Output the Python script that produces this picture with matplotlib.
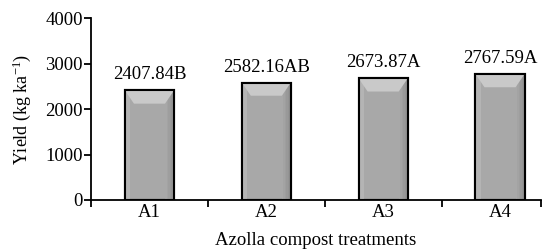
import matplotlib
matplotlib.use("Agg")
import matplotlib.pyplot as plt
from matplotlib.patches import Polygon, Rectangle
import numpy as np

categories = ["A1", "A2", "A3", "A4"]
yields = [2407.84, 2582.16, 2673.87, 2767.59]
letters = ["B", "AB", "A", "A"]
yticks = [0, 1000, 2000, 3000, 4000]

plt.rcParams['font.family'] = ['Liberation Serif', 'DejaVu Serif']
plt.rcParams['mathtext.fontset'] = 'custom'
plt.rcParams['mathtext.rm'] = 'Liberation Serif'
plt.rcParams['mathtext.it'] = 'Liberation Serif:italic'

fig = plt.figure(figsize=(5.42, 2.5), dpi=100)
ax = fig.add_axes([0.168, 0.2, 0.83, 0.728])

x = np.arange(len(categories))
width = 0.42
ax.bar(x, yields, width=width, color="#a8a8a8", edgecolor="black", linewidth=1.5, zorder=2)

# bevel decoration derived from bar geometry
bev_x = 0.077
bev_y = 290
for xi, h in zip(x, yields):
    l, r = xi - width / 2, xi + width / 2
    ax.add_patch(Rectangle((l, 0), bev_x * 0.6, h, facecolor="#b4b4b4", edgecolor="none", zorder=3))
    steps = 6
    for k in range(steps):
        w = bev_x / steps
        c = 0.66 - 0.10 * (k / (steps - 1))
        ax.add_patch(Rectangle((r - bev_x + k * w, 0), w, h, facecolor=(c, c, c), edgecolor="none", zorder=3))
    ax.add_patch(Polygon([(l, h), (r, h), (r - bev_x, h - bev_y), (l + bev_x, h - bev_y)],
                         closed=True, facecolor="#c9c9c9", edgecolor="none", zorder=4))
    ax.add_patch(Rectangle((l, 0), width, h, facecolor="none", edgecolor="black", linewidth=1.5, zorder=5))
    ax.annotate(f"{h:.2f}{letters[int(xi)]}", (xi, h), xytext=(0, 5), textcoords="offset points",
                ha="center", va="bottom", fontsize=13.5)

ax.set_ylim(0, 4000)
ax.set_xlim(-0.5, 3.35)
ax.set_yticks(yticks)
ax.set_yticklabels([str(t) for t in yticks], fontsize=13.5)
ax.set_xticks(x)
ax.set_xticklabels(categories, fontsize=13.5)
ax.tick_params(axis="x", which="major", length=0, pad=3)
ax.set_xticks([-0.5, 0.5, 1.5, 2.5, 3.35], minor=True)
ax.tick_params(axis="x", which="minor", length=5, width=1.3, direction="out")
ax.tick_params(axis="y", length=5, width=1.3, direction="out", pad=1)

for s in ["top", "right"]:
    ax.spines[s].set_visible(False)
for s in ["left", "bottom"]:
    ax.spines[s].set_linewidth(1.3)

ax.set_ylabel("Yield (kg ka$^{-1}$)", fontsize=13, labelpad=9)
ax.set_xlabel("Azolla compost treatments", fontsize=13.5, labelpad=8)

fig.savefig("out.png", dpi=100)
